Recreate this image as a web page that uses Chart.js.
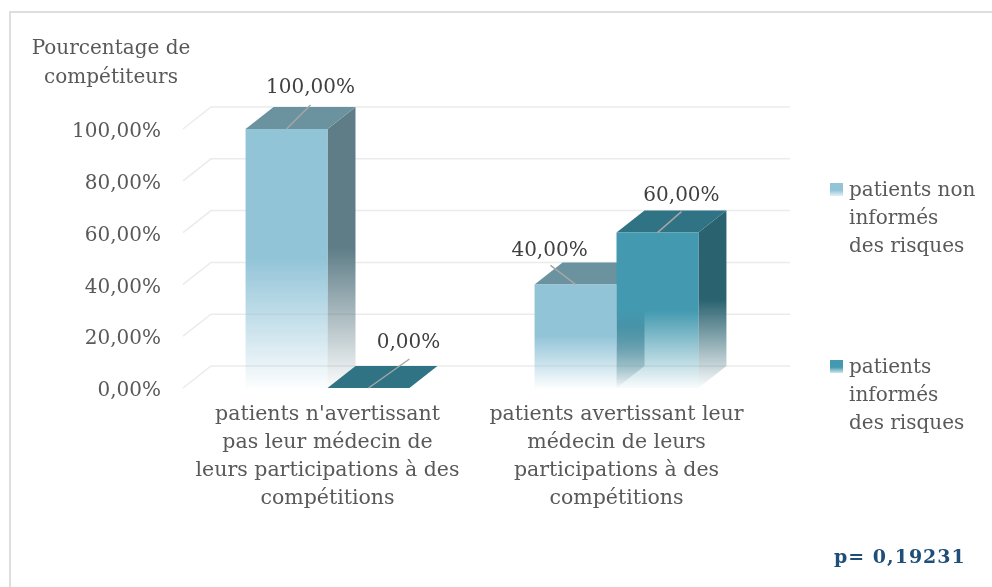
<!DOCTYPE html>
<html>
<head>
<meta charset="utf-8">
<script src="https://cdn.jsdelivr.net/npm/chart.js@4"></script>
<style>
  body { margin: 0; background: #fff; font-family: "DejaVu Serif", serif; color: #595959; overflow: hidden; }
  #wrap { position: relative; width: 992px; height: 587px; overflow: hidden; }
  #frame { position: absolute; left: 9px; top: 11px; width: 983px; height: 576px; border-top: 2px solid #dedede; border-left: 2px solid #dedede; box-sizing: border-box; }
  canvas { position: absolute; left: 0; top: 0; }
  .ytitle { position: absolute; left: 16px; top: 33px; width: 190px; text-align: center; font-size: 20px; line-height: 29px; }
  .legend { position: absolute; left: 830px; font-size: 20px; line-height: 28px; }
  .legend .box { position: absolute; left: 0; top: 8px; width: 13px; height: 13px; }
  .legend .txt { position: absolute; left: 19px; top: 0; white-space: nowrap; }
  .pval { position: absolute; left: 834px; top: 545px; font-size: 19px; letter-spacing: 1px; font-weight: bold; color: #1f4e79; white-space: nowrap; }
</style>
</head>
<body>
<div id="wrap">
  <div id="frame"></div>
  <canvas id="c" width="992" height="587"></canvas>
  <div class="ytitle">Pourcentage de<br>compétiteurs</div>
  <div id="legend"></div>
  <div class="pval">p= 0,19231</div>
</div>
<script>
// data
const categories = [
  ["patients n'avertissant", "pas leur médecin de", "leurs participations à des", "compétitions"],
  ["patients avertissant leur", "médecin de leurs", "participations à des", "compétitions"]
];
const seriesNames = ["patients non informés des risques", "patients informés des risques"];
const legendLines = [["patients non", "informés", "des risques"], ["patients", "informés", "des risques"]];
const nonInformes = [100, 40];
const informes = [0, 60];
const yTickValues = [0, 20, 40, 60, 80, 100];

// styles
const frontColors = [[146, 196, 216], [66, 153, 176]];
const topColors = ["#6b939f", "#2f7384"];
const sideColors = [[94, 125, 135], [42, 98, 112]];
const depth = { dx: 28, dy: -22 };
// label offset from front-top centre of each bar: [lineDx, lineDy, textDx, textDy]
const labelOffsets = [
  [[24, -24, 24, -41], [41, -29, 40, -45]],
  [[-25, -19, -26, -34], [24, -21, 24, -37]]
];
const FONT = "DejaVu Serif";

function fmt(v) { return v.toFixed(2).replace(".", ",") + "%"; }
function rgba(c, a) { return "rgba(" + c[0] + "," + c[1] + "," + c[2] + "," + a + ")"; }

// legend
const legendTops = [175, 352];
document.getElementById("legend").innerHTML = legendLines.map((lines, i) => {
  const c = frontColors[i];
  return '<div class="legend" style="top:' + legendTops[i] + 'px">' +
    '<div class="box" style="background:linear-gradient(' + rgba(c, 1) + ' 55%,' + rgba(c, 0.25) + ')"></div>' +
    '<div class="txt">' + lines.join("<br>") + '</div></div>';
}).join("");

function frontFill(context) {
  const chart = context.chart;
  const ds = context.datasetIndex;
  if (!chart.chartArea || !chart.scales.y) return rgba(frontColors[ds], 1);
  const v = context.raw;
  const yT = chart.scales.y.getPixelForValue(v);
  const yB = chart.scales.y.getPixelForValue(0);
  if (yB - yT < 1) return rgba(frontColors[ds], 1);
  const g = chart.ctx.createLinearGradient(0, yT, 0, yB);
  g.addColorStop(0, rgba(frontColors[ds], 1));
  g.addColorStop(0.5, rgba(frontColors[ds], 1));
  g.addColorStop(1, rgba(frontColors[ds], 0.03));
  return g;
}

const bars3d = {
  id: "bars3d",
  beforeDatasetsDraw(chart) {
    const ctx = chart.ctx;
    const a = chart.chartArea;
    const y = chart.scales.y;
    // back wall grid + floor edges
    ctx.save();
    ctx.strokeStyle = "#ebebeb";
    ctx.lineWidth = 1.5;
    yTickValues.forEach(v => {
      const py = y.getPixelForValue(v);
      ctx.beginPath();
      ctx.moveTo(a.left, py);
      ctx.lineTo(a.left + depth.dx, py + depth.dy);
      ctx.lineTo(a.right + depth.dx + 1, py + depth.dy);
      ctx.stroke();
    });
    // side and top faces
    chart.data.datasets.forEach((d, ds) => {
      chart.getDatasetMeta(ds).data.forEach(bar => {
        const p = bar.getProps(["x", "y", "base", "width"], true);
        const l = p.x - p.width / 2, r = p.x + p.width / 2;
        const t = p.y, b = p.base;
        if (b - t > 0.5) {
          const g = ctx.createLinearGradient(0, t + depth.dy, 0, b);
          g.addColorStop(0, rgba(sideColors[ds], 1));
          g.addColorStop(0.5, rgba(sideColors[ds], 1));
          g.addColorStop(1, rgba(sideColors[ds], 0.02));
          ctx.fillStyle = g;
          ctx.beginPath();
          ctx.moveTo(r, t);
          ctx.lineTo(r + depth.dx, t + depth.dy);
          ctx.lineTo(r + depth.dx, b + depth.dy);
          ctx.lineTo(r, b);
          ctx.closePath();
          ctx.fill();
        }
        ctx.fillStyle = topColors[ds];
        ctx.beginPath();
        ctx.moveTo(l, t);
        ctx.lineTo(r, t);
        ctx.lineTo(r + depth.dx, t + depth.dy);
        ctx.lineTo(l + depth.dx, t + depth.dy);
        ctx.closePath();
        ctx.fill();
      });
    });
    ctx.restore();
  },
  afterDatasetsDraw(chart) {
    const ctx = chart.ctx;
    ctx.save();
    ctx.font = "20px '" + FONT + "'";
    ctx.textAlign = "center";
    ctx.textBaseline = "middle";
    chart.data.datasets.forEach((d, ds) => {
      chart.getDatasetMeta(ds).data.forEach((bar, i) => {
        const p = bar.getProps(["x", "y"], true);
        const o = labelOffsets[i][ds];
        ctx.strokeStyle = "#a6a6a6";
        ctx.lineWidth = 1.5;
        ctx.beginPath();
        ctx.moveTo(p.x, p.y);
        ctx.lineTo(p.x + o[0], p.y + o[1]);
        ctx.stroke();
        ctx.fillStyle = "#404040";
        ctx.fillText(fmt(d.data[i]), p.x + o[2], p.y + o[3]);
      });
    });
    ctx.restore();
  }
};

new Chart(document.getElementById("c").getContext("2d"), {
  type: "bar",
  data: {
    labels: categories,
    datasets: [
      { label: seriesNames[0], data: nonInformes, backgroundColor: frontFill },
      { label: seriesNames[1], data: informes, backgroundColor: frontFill }
    ]
  },
  options: {
    responsive: false,
    devicePixelRatio: 1,
    animation: false,
    layout: { padding: { left: 0, top: 129, right: 231, bottom: 0 } },
    datasets: { bar: { categoryPercentage: 0.567, barPercentage: 1, borderWidth: 0 } },
    plugins: { legend: { display: false }, tooltip: { enabled: false } },
    scales: {
      x: {
        grid: { display: false, drawTicks: false },
        border: { display: false },
        ticks: {
          color: "#595959", font: { family: FONT, size: 20.5, lineHeight: 1.36 },
          padding: 13, maxRotation: 0, minRotation: 0, autoSkip: false
        },
        afterFit(scale) { scale.height = 199; }
      },
      y: {
        min: 0, max: 100,
        grid: { display: false, drawTicks: false },
        border: { display: false },
        ticks: {
          color: "#595959", font: { family: FONT, size: 20 }, padding: 22, labelOffset: 3,
          callback: v => fmt(v)
        },
        afterBuildTicks(scale) { scale.ticks = yTickValues.map(v => ({ value: v })); },
        afterFit(scale) { scale.width = 183; }
      }
    }
  },
  plugins: [bars3d]
});
</script>
</body>
</html>
